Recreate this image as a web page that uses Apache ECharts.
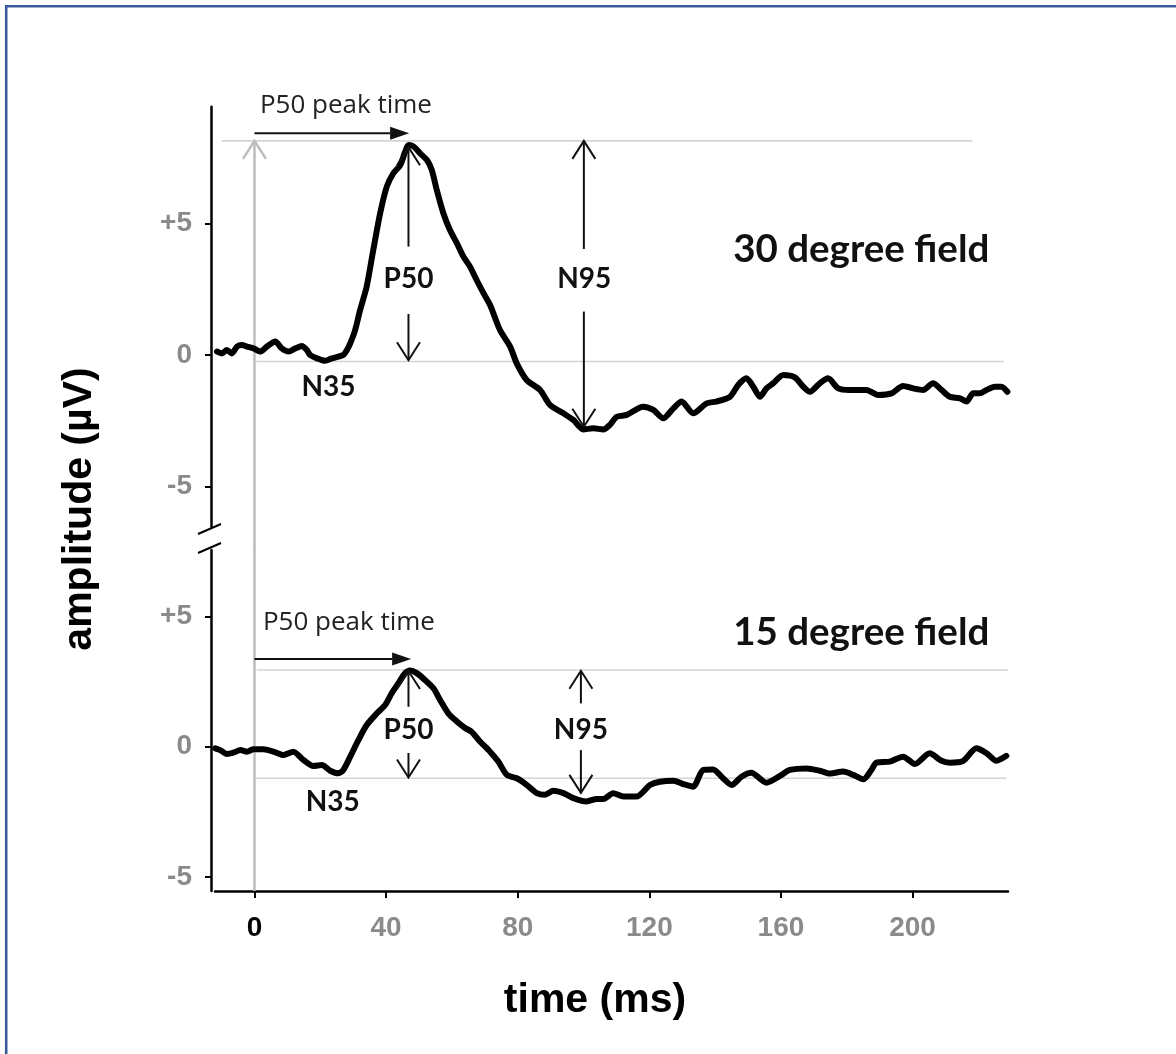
<!DOCTYPE html>
<html>
<head>
<meta charset="utf-8">
<script src="https://cdn.jsdelivr.net/npm/echarts@6/dist/echarts.min.js"></script>
<style>
  html, body { margin: 0; padding: 0; background: #fff; }
  #chart { width: 1176px; height: 1054px; }
</style>
</head>
<body>
<div id="chart"></div>
<script>
// ---------- DATA ----------
const timeTicks = [0, 40, 80, 120, 160, 200];
const ampTicks = [-5, 0, 5];

// 30 degree field trace (time ms, amplitude µV)
const upperTime = [-11.4, -9.9, -8.4, -6.9, -5.3, -3.8, -2.3, -0.3, 1.7, 3.8, 6.3, 8.3, 10.4, 12.4, 14.4, 15.9, 16.9, 19.0, 21.5, 23.5, 25.5, 27.0, 28.1, 29.1, 30.6, 32.1, 34.1, 36.1, 38.2, 40.2, 42.2, 44.3, 45.8, 46.8, 48.4, 50.3, 52.4, 53.9, 55.4, 57.4, 59.4, 61.5, 63.5, 65.5, 67.5, 69.6, 71.6, 74.6, 77.7, 79.7, 82.7, 86.8, 89.8, 93.9, 96.9, 99.9, 103.0, 106.0, 108.0, 110.1, 113.1, 118.1, 121.2, 124.2, 127.3, 129.8, 133.3, 137.4, 140.4, 144.5, 147.0, 149.5, 151.6, 153.6, 155.6, 157.6, 160.7, 164.2, 166.8, 168.8, 171.8, 174.3, 177.4, 180.9, 186.0, 189.5, 193.6, 197.1, 200.2, 203.2, 206.2, 208.8, 211.3, 214.4, 216.4, 218.4, 220.4, 222.5, 225.0, 227.0, 228.8];
const upperAmp = [0.13, 0.06, 0.19, 0.06, 0.32, 0.38, 0.32, 0.25, 0.13, 0.32, 0.51, 0.25, 0.13, 0.25, 0.34, 0.19, 0, -0.13, -0.22, -0.13, -0.06, 0, 0.19, 0.44, 0.95, 1.71, 2.60, 3.99, 5.39, 6.40, 6.91, 7.22, 7.73, 7.98, 7.92, 7.67, 7.41, 7.03, 6.27, 5.39, 4.75, 4.25, 3.74, 3.36, 2.85, 2.35, 1.90, 0.95, 0.32, -0.32, -0.95, -1.33, -1.90, -2.22, -2.47, -2.83, -2.79, -2.83, -2.66, -2.35, -2.28, -1.97, -2.09, -2.41, -2.03, -1.77, -2.22, -1.84, -1.77, -1.59, -1.14, -0.89, -1.21, -1.59, -1.27, -1.08, -0.76, -0.85, -1.21, -1.40, -1.08, -0.89, -1.27, -1.33, -1.33, -1.52, -1.46, -1.18, -1.27, -1.33, -1.08, -1.33, -1.59, -1.65, -1.77, -1.46, -1.46, -1.33, -1.21, -1.21, -1.40];

// 15 degree field trace
const lowerTime = [-11.9, -10.4, -8.4, -6.4, -4.3, -2.3, -0.3, 2.7, 5.8, 8.8, 11.8, 14.9, 17.9, 20.5, 23.0, 25.5, 27.0, 29.1, 31.6, 34.1, 37.2, 39.7, 41.7, 43.7, 45.8, 47.3, 49.3, 51.8, 54.4, 56.4, 58.9, 61.5, 64.0, 66.0, 68.6, 71.6, 74.1, 76.7, 79.7, 82.7, 85.8, 88.3, 90.8, 93.9, 96.9, 100.9, 104.0, 106.0, 109.0, 112.1, 116.1, 120.2, 123.2, 127.3, 130.3, 133.3, 136.4, 139.4, 142.4, 145.0, 148.0, 151.0, 155.6, 159.7, 162.7, 167.8, 171.8, 174.9, 178.9, 182.0, 185.0, 187.5, 189.0, 193.1, 197.1, 200.7, 205.2, 208.8, 211.3, 215.4, 219.4, 222.5, 225.5, 228.5];
const lowerAmp = [-0.06, -0.13, -0.28, -0.23, -0.13, -0.19, -0.10, -0.10, -0.19, -0.32, -0.19, -0.51, -0.74, -0.70, -0.92, -1.02, -0.89, -0.38, 0.26, 0.83, 1.28, 1.60, 2.05, 2.43, 2.82, 2.92, 2.82, 2.56, 2.24, 1.79, 1.28, 0.97, 0.72, 0.57, 0.19, -0.19, -0.57, -1.08, -1.21, -1.46, -1.78, -1.84, -1.69, -1.78, -1.97, -2.10, -2.0, -2.0, -1.78, -1.91, -1.91, -1.47, -1.34, -1.30, -1.43, -1.53, -0.89, -0.87, -1.21, -1.47, -1.15, -1.00, -1.38, -1.12, -0.89, -0.83, -0.92, -1.03, -0.95, -1.08, -1.25, -0.89, -0.61, -0.57, -0.38, -0.66, -0.25, -0.54, -0.61, -0.54, -0.06, -0.25, -0.54, -0.35];

// reference lines [tStart, tEnd, amplitude]
const upperRefLines = [[-9.9, 218.2, 8.14], [0.5, 227.7, -0.25]];
const lowerRefLines = [[0.7, 229, 2.94], [0.5, 228.5, -1.21]];

// arrows [tFrom, vFrom, tTo, vTo] (head at "to")
const upperPeakTimeArrow = [[0, 8.43, 47.0, 8.43]];
const lowerPeakTimeArrow = [[0, 3.36, 47.6, 3.36]];
const upperOpenArrows = [[46.8, 4.12, 46.8, 7.9], [46.8, 1.56, 46.8, -0.2], [100.1, 4.03, 100.1, 8.14], [100.1, 1.65, 100.1, -2.73]];
const lowerOpenArrows = [[46.8, 1.53, 46.8, 2.9], [46.8, -0.24, 46.8, -1.18], [99.2, 1.66, 99.2, 2.91], [99.2, -0.13, 99.2, -1.77]];
const upperStimulusLine = [[0, -7.45, 0, 8.14]];
const lowerStimulusLine = [[0, -5.53, 0, 7.54]];

// text labels
const upperLabelText = ['P50', 'N95', 'N35'];
const upperLabelPos = [[46.8, 2.89], [100.2, 2.89], [22.5, -1.22]];
const lowerLabelText = ['P50', 'N95', 'N35'];
const lowerLabelPos = [[46.8, 0.64], [99.2, 0.64], [23.8, -2.11]];
const fieldTitles = ['30 degree field', '15 degree field'];
const fieldTitlePos = [[184.4, 3.99], [184.4, 4.39]];
const peakTimeText = ['P50 peak time', 'P50 peak time'];
const peakTimeTextPos = [[27.8, 9.5], [28.7, 4.74]];

// ---------- CHART ----------
const chart = echarts.init(document.getElementById('chart'), null, { renderer: 'canvas' });

const zip = (a, b) => a.map((v, i) => [v, b[i]]);
const GRAY_TXT = '#8a8a8a';

function arrowRenderer(kind, color, width) {
  return function (params, api) {
    const p1 = api.coord([api.value(0), api.value(1)]);
    const p2 = api.coord([api.value(2), api.value(3)]);
    const dx = p2[0] - p1[0], dy = p2[1] - p1[1];
    const len = Math.sqrt(dx * dx + dy * dy) || 1;
    const ux = dx / len, uy = dy / len;
    const nx = -uy, ny = ux;
    const children = [];
    if (kind === 'filled') {
      const L = 19, W = 6.5;
      const bx = p2[0] - ux * L, by = p2[1] - uy * L;
      children.push({ type: 'line', shape: { x1: p1[0], y1: p1[1], x2: bx, y2: by },
        style: { stroke: color, lineWidth: width } });
      children.push({ type: 'polygon', shape: { points: [[p2[0], p2[1]], [bx + nx * W, by + ny * W], [bx - nx * W, by - ny * W]] },
        style: { fill: color } });
    } else {
      children.push({ type: 'line', shape: { x1: p1[0], y1: p1[1], x2: p2[0], y2: p2[1] },
        style: { stroke: color, lineWidth: width } });
      if (kind === 'open') {
        const L = 18, W = 11.5;
        const bx = p2[0] - ux * L, by = p2[1] - uy * L;
        children.push({ type: 'polyline', shape: { points: [[bx + nx * W, by + ny * W], [p2[0], p2[1]], [bx - nx * W, by - ny * W]] },
          style: { stroke: color, lineWidth: width, fill: null, lineJoin: 'miter' } });
      }
    }
    return { type: 'group', children };
  };
}

function refLineRenderer(params, api) {
  const a = api.coord([api.value(0), api.value(2)]);
  const b = api.coord([api.value(1), api.value(2)]);
  return { type: 'line', shape: { x1: a[0], y1: a[1], x2: b[0], y2: b[1] },
    style: { stroke: '#d4d4d4', lineWidth: 1.6 } };
}

function textRenderer(texts, font) {
  return function (params, api) {
    const p = api.coord([api.value(0), api.value(1)]);
    return { type: 'text', x: p[0], y: p[1],
      style: Object.assign({ text: texts[params.dataIndex], fill: '#111', align: 'center', verticalAlign: 'middle' }, font) };
  };
}

const boldLabel = { fontFamily: 'Lato', fontWeight: 'bold', fontSize: 28 };
const titleFont = { fontFamily: 'Lato', fontWeight: 'bold', fontSize: 38.5 };
const peakFont = { fontFamily: 'Open Sans', fontWeight: 'normal', fontSize: 26, fill: '#222' };

function panelSeries(gi, d) {
  const base = { xAxisIndex: gi, yAxisIndex: gi };
  return [
    Object.assign({ type: 'custom', name: 'ref' + gi, data: d.ref, renderItem: refLineRenderer, z: 1, silent: true,
      encode: { x: [0, 1], y: 2 } }, base),
    Object.assign({ type: 'custom', name: 'stim' + gi, data: d.stim, z: 1, silent: true,
      renderItem: arrowRenderer(gi === 0 ? 'open' : 'none', '#bdbdbd', 2.5), encode: { x: [0, 2], y: [1, 3] } }, base),
    Object.assign({ type: 'line', name: d.name, data: d.trace, showSymbol: false, smooth: 0.25, z: 3,
      lineStyle: { color: '#000', width: 6, join: 'round', cap: 'round' }, silent: true }, base),
    Object.assign({ type: 'custom', name: 'pt' + gi, data: d.peak, z: 4, silent: true,
      renderItem: arrowRenderer('filled', '#111', 2), encode: { x: [0, 2], y: [1, 3] } }, base),
    Object.assign({ type: 'custom', name: 'ar' + gi, data: d.arrows, z: 4, silent: true,
      renderItem: arrowRenderer('open', '#111', 2), encode: { x: [0, 2], y: [1, 3] } }, base),
    Object.assign({ type: 'custom', name: 'lb' + gi, data: d.labelPos, z: 5, silent: true,
      renderItem: textRenderer(d.labels, boldLabel) }, base),
    Object.assign({ type: 'custom', name: 'tt' + gi, data: [fieldTitlePos[gi]], z: 5, silent: true,
      renderItem: textRenderer([fieldTitles[gi]], titleFont) }, base),
    Object.assign({ type: 'custom', name: 'pk' + gi, data: [peakTimeTextPos[gi]], z: 5, silent: true,
      renderItem: textRenderer([peakTimeText[gi]], peakFont) }, base)
  ];
}

const yAxisCommon = {
  type: 'value', offset: 4,
  axisLine: { show: true, onZero: false, lineStyle: { color: '#000', width: 2.5 } },
  axisTick: { show: true, customValues: ampTicks, length: 6, lineStyle: { color: '#000', width: 2 } },
  axisLabel: { customValues: ampTicks, formatter: v => (v > 0 ? '+' + v : '' + v), color: GRAY_TXT,
    fontFamily: 'Liberation Sans', fontWeight: 'bold', fontSize: 28, margin: 19 },
  splitLine: { show: false }
};

const option = {
  backgroundColor: '#fff',
  animation: false,
  grid: [
    { left: 215, right: 168, top: 106.7, height: 420 },
    { left: 215, right: 168, top: 550, height: 341 }
  ],
  xAxis: [
    { gridIndex: 0, type: 'value', min: -12, max: 229, show: false },
    { gridIndex: 1, type: 'value', min: -12, max: 229,
      axisLine: { show: true, onZero: false, lineStyle: { color: '#000', width: 2.5 } },
      axisTick: { show: true, customValues: timeTicks, length: 7, lineStyle: { color: '#000', width: 2 } },
      axisLabel: { customValues: timeTicks, fontFamily: 'Liberation Sans', fontWeight: 'bold', fontSize: 28, margin: 23,
        color: v => (Number(v) === 0 ? '#000' : GRAY_TXT) },
      splitLine: { show: false } }
  ],
  yAxis: [
    Object.assign({ gridIndex: 0, min: -6.53, max: 9.44 }, yAxisCommon),
    Object.assign({ gridIndex: 1, min: -5.53, max: 7.54 }, yAxisCommon)
  ],
  graphic: [
    { type: 'rect', shape: { x: 6.2, y: 6.2, width: 1300, height: 1200 }, style: { fill: null, stroke: '#3b5b9b', lineWidth: 2.6 }, z: 10 },
    { type: 'line', shape: { x1: 198, y1: 534, x2: 221, y2: 524 }, style: { stroke: '#000', lineWidth: 2 } },
    { type: 'line', shape: { x1: 198, y1: 553, x2: 221, y2: 543 }, style: { stroke: '#000', lineWidth: 2 } },
    { type: 'text', x: 80, y: 509, rotation: Math.PI / 2,
      style: { text: 'amplitude (µV)', fontFamily: 'Liberation Sans', fontWeight: 'bold', fontSize: 41, fill: '#000', align: 'center', verticalAlign: 'middle' } },
    { type: 'text', x: 595, y: 1001,
      style: { text: 'time (ms)', fontFamily: 'Liberation Sans', fontWeight: 'bold', fontSize: 41, fill: '#000', align: 'center', verticalAlign: 'middle' } }
  ],
  series: [
    ...panelSeries(0, { name: '30 degree field', trace: zip(upperTime, upperAmp), ref: upperRefLines, stim: upperStimulusLine,
      peak: upperPeakTimeArrow, arrows: upperOpenArrows, labels: upperLabelText, labelPos: upperLabelPos }),
    ...panelSeries(1, { name: '15 degree field', trace: zip(lowerTime, lowerAmp), ref: lowerRefLines, stim: lowerStimulusLine,
      peak: lowerPeakTimeArrow, arrows: lowerOpenArrows, labels: lowerLabelText, labelPos: lowerLabelPos })
  ]
};

chart.setOption(option);
</script>
</body>
</html>
